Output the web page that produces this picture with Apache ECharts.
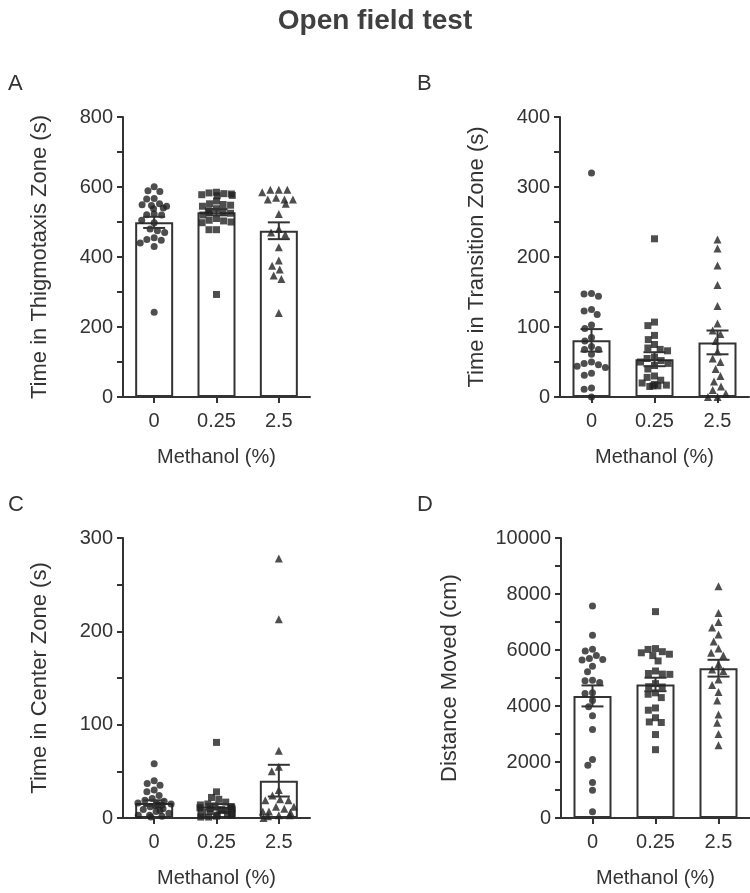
<!DOCTYPE html>
<html><head><meta charset="utf-8">
<script src="https://cdn.jsdelivr.net/npm/echarts@6.0.0/dist/echarts.min.js"></script>
<style>html,body{margin:0;padding:0;background:#fff}#c{width:750px;height:893px}</style>
</head><body><div id="c"></div>
<script>
// ---------- data ----------
const categories = ['0', '0.25', '2.5'];
const xAxisTitle = 'Methanol (%)';

// Panel A: Time in Thigmotaxis Zone (s)
const thigmoCtrl = [601, 589, 587, 567, 566, 552, 549, 547, 545, 540, 538, 523, 521, 520, 505, 498, 480, 475, 470, 455, 450, 448, 440, 430, 242];
const thigmoLow  = [585, 583, 581, 580, 578, 576, 575, 560, 552, 550, 548, 545, 538, 532, 530, 528, 525, 520, 510, 505, 503, 500, 498, 478, 478, 293];
const thigmoHigh = [592, 592, 592, 585, 569, 564, 564, 564, 552, 523, 480, 470, 464, 428, 390, 375, 364, 347, 337, 240];
const thigmoMean = [499, 528, 475];
const thigmoSem  = [16, 9, 24];

// Panel B: Time in Transition Zone (s)
const transCtrl = [320, 148, 147, 144, 125, 123, 118, 103, 98, 85, 80, 72, 68, 68, 61, 50, 48, 46, 44, 42, 34, 31, 13, 11, 0];
const transLow  = [226, 107, 102, 88, 82, 75, 70, 68, 66, 57, 55, 52, 50, 48, 45, 40, 30, 28, 24, 20, 18, 17, 16, 16, 15];
const transHigh = [225, 212, 188, 160, 130, 105, 95, 90, 80, 65, 55, 50, 40, 30, 22, 15, 10, 5, 0, 0];
const transMean = [81, 54, 78];
const transSem  = [16, 10, 17];

// Panel C: Time in Center Zone (s)
const centerCtrl = [58, 40, 37, 35, 30, 28, 24, 21, 19, 18, 16, 15, 15, 14, 14, 13, 12, 10, 9, 8, 7, 5, 3, 3, 2, 1];
const centerLow  = [81, 28, 22, 20, 17, 15, 14, 13, 12, 12, 11, 10, 10, 9, 8, 8, 7, 6, 5, 4, 3, 3, 2, 1, 1];
const centerHigh = [278, 213, 72, 55, 50, 30, 24, 20, 19, 19, 12, 12, 10, 7, 7, 6, 3, 3, 2, 0];
const centerMean = [16, 12, 40];
const centerSem  = [3, 3, 17];

// Panel D: Distance Moved (cm)
const distCtrl = [7570, 6530, 6030, 5960, 5800, 5700, 5660, 5640, 5420, 5220, 4920, 4900, 4840, 4470, 4450, 4200, 3970, 3650, 3160, 2090, 1880, 1270, 990, 220];
const distLow  = [7370, 6050, 6020, 5940, 5900, 5850, 5800, 5610, 5250, 5160, 5140, 5130, 4800, 4690, 4680, 4470, 4420, 4300, 3930, 3850, 3580, 3430, 3410, 2980, 2440];
const distHigh = [8280, 7320, 7000, 6800, 6550, 6300, 6050, 5900, 5800, 5500, 5300, 5250, 4950, 4750, 4500, 4200, 3700, 3400, 3000, 2600];
const distMean = [4360, 4770, 5350];
const distSem  = [375, 240, 300];

// ---------- layout / style ----------
const INK = '#333';
const FONT = 'Liberation Sans, Arial, sans-serif';
const panels = [
  {letter: 'A', groups: [thigmoCtrl, thigmoLow, thigmoHigh], mean: thigmoMean, sem: thigmoSem,
   yName: 'Time in Thigmotaxis Zone (s)', max: 800, interval: 200,
   grid: {left: 123, top: 117, width: 187, height: 280}, nameGap: 72, letterPos: [3, 68]},
  {letter: 'B', groups: [transCtrl, transLow, transHigh], mean: transMean, sem: transSem,
   yName: 'Time in Transition Zone (s)', max: 400, interval: 100,
   grid: {left: 560, top: 117, width: 189, height: 280}, nameGap: 72, letterPos: [412, 68]},
  {letter: 'C', groups: [centerCtrl, centerLow, centerHigh], mean: centerMean, sem: centerSem,
   yName: 'Time in Center Zone (s)', max: 300, interval: 100,
   grid: {left: 123, top: 538, width: 187, height: 280}, nameGap: 72, letterPos: [3, 489]},
  {letter: 'D', groups: [distCtrl, distLow, distHigh], mean: distMean, sem: distSem,
   yName: 'Distance Moved (cm)', max: 10000, interval: 2000,
   grid: {left: 561, top: 538, width: 189, height: 280}, nameGap: 100, letterPos: [412, 489]}
];
const symbols = ['circle', 'rect', 'triangle'];
const symbolSizes = [7, 7, 8];

const grids = [], xAxes = [], yAxes = [], series = [];
const titles = [{
  text: 'Open field test', left: 'center', top: 2,
  textStyle: {fontFamily: FONT, fontSize: 28, fontWeight: 'bold', color: '#404040'}
}];

panels.forEach((p, i) => {
  grids.push(Object.assign({containLabel: false, outerBoundsMode: 'none'}, p.grid));
  titles.push({text: p.letter, left: p.letterPos[0], top: p.letterPos[1],
    textStyle: {fontFamily: FONT, fontSize: 22, fontWeight: 'normal', color: INK}});
  xAxes.push({
    gridIndex: i, type: 'category', data: categories, boundaryGap: true,
    jitter: 34, jitterOverlap: false, jitterMargin: 0.5,
    axisLine: {show: true, lineStyle: {color: INK, width: 2}},
    axisTick: {show: true, alignWithLabel: true, length: 6, lineStyle: {color: INK, width: 2}},
    axisLabel: {fontFamily: FONT, fontSize: 20, color: INK, margin: 14},
    splitLine: {show: false},
    name: xAxisTitle, nameLocation: 'middle', nameGap: 50,
    nameTextStyle: {fontFamily: FONT, fontSize: 20, color: INK}
  });
  yAxes.push({
    gridIndex: i, type: 'value', min: 0, max: p.max, interval: p.interval,
    axisLine: {show: true, lineStyle: {color: INK, width: 2}},
    axisTick: {show: true, length: 6, lineStyle: {color: INK, width: 2}},
    minorTick: {show: true, splitNumber: 2, length: 6, lineStyle: {color: INK, width: 2}},
    minorSplitLine: {show: false},
    axisLabel: {fontFamily: FONT, fontSize: 20, color: INK, margin: 10, formatter: v => String(v)},
    splitLine: {show: false},
    name: p.yName, nameLocation: 'middle', nameGap: p.nameGap, nameMoveOverlap: false,
    nameTextStyle: {fontFamily: FONT, fontSize: 22, color: INK}
  });
  series.push({
    type: 'bar', xAxisIndex: i, yAxisIndex: i, data: p.mean, barWidth: 38, z: 2,
    itemStyle: {color: '#fff', borderColor: INK, borderWidth: 2}, silent: true
  });
  p.groups.forEach((g, k) => {
    series.push({
      type: 'scatter', xAxisIndex: i, yAxisIndex: i, z: 3,
      symbol: symbols[k], symbolSize: symbolSizes[k],
      itemStyle: {color: '#222'},
      data: g.map(v => [k, v])
    });
  });
  series.push({
    type: 'custom', xAxisIndex: i, yAxisIndex: i, z: 4, silent: true,
    data: p.mean.map((m, k) => [k, m, p.sem[k]]),
    renderItem: (params, api) => {
      const x = api.value(0), m = api.value(1), s = api.value(2);
      const top = api.coord([x, m + s]);
      const bot = api.coord([x, m - s]);
      const half = 11;
      const st = {stroke: INK, lineWidth: 2};
      return {type: 'group', children: [
        {type: 'line', shape: {x1: top[0], y1: top[1], x2: bot[0], y2: bot[1]}, style: st},
        {type: 'line', shape: {x1: top[0] - half, y1: top[1], x2: top[0] + half, y2: top[1]}, style: st},
        {type: 'line', shape: {x1: bot[0] - half, y1: bot[1], x2: bot[0] + half, y2: bot[1]}, style: st}
      ]};
    }
  });
});

const chart = echarts.init(document.getElementById('c'), null, {renderer: 'canvas'});
chart.setOption({
  animation: false, backgroundColor: '#fff',
  title: titles, grid: grids, xAxis: xAxes, yAxis: yAxes, series: series
});
</script>
</body></html>
